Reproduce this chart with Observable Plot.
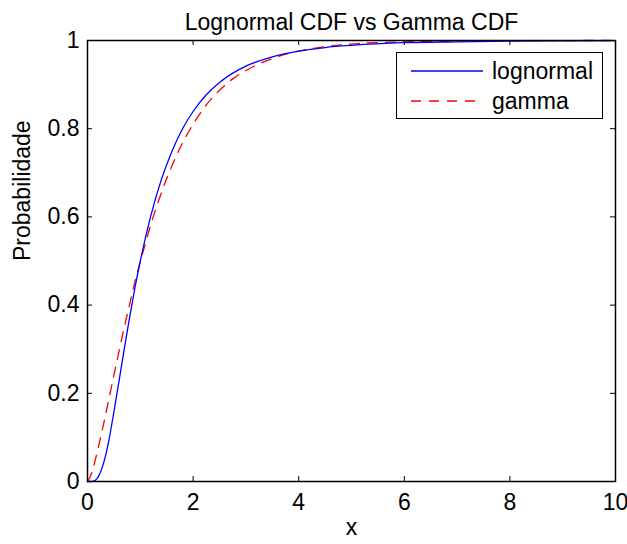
<!DOCTYPE html>
<html>
<head>
<meta charset="utf-8">
<script src="https://cdn.jsdelivr.net/npm/d3@7"></script>
<script src="https://cdn.jsdelivr.net/npm/@observablehq/plot@0.6"></script>
<style>
  html, body { margin: 0; padding: 0; background: #fff; }
  #wrap { position: relative; width: 627px; height: 544px; font-family: "Liberation Sans", Arial, sans-serif; }
  #legend { position: absolute; left: 396px; top: 52px; width: 207px; height: 67px; border: 1px solid #000; background: #fff; box-sizing: border-box; }
  #legend .row { position: absolute; left: 0; height: 26px; display: flex; align-items: center; font-size: 23px; color: #000; white-space: nowrap; }
  #legend svg { margin-left: 14px; margin-right: 9px; }
</style>
</head>
<body>
<div id="wrap">
  <div id="chart"></div>
  <div id="legend"></div>
</div>
<script>
const title = "Lognormal CDF vs Gamma CDF";
const xLabel = "x";
const yLabel = "Probabilidade";
const xTicks = [0, 2, 4, 6, 8, 10];
const yTicks = [0, 0.2, 0.4, 0.6, 0.8, 1];
const seriesNames = ["lognormal", "gamma"];

const xs = [0, 0.05, 0.1, 0.15, 0.2, 0.3, 0.4, 0.5, 0.6, 0.7, 0.8, 0.9, 1.0, 1.2, 1.4, 1.6, 1.8, 2.0, 2.25, 2.5, 2.75, 3.0, 3.5, 4.0, 4.5, 5.0, 6.0, 7.0, 8.0, 9.0, 10.0];
const lognormal = [0, 0.0, 0.0005, 0.003, 0.010, 0.040, 0.090, 0.158, 0.230, 0.303, 0.374, 0.440, 0.500, 0.603, 0.685, 0.749, 0.800, 0.839, 0.877, 0.905, 0.926, 0.942, 0.963, 0.976, 0.984, 0.989, 0.995, 0.997, 0.9985, 0.9992, 0.9995];
const gamma = [0, 0.010, 0.028, 0.050, 0.075, 0.128, 0.184, 0.241, 0.297, 0.351, 0.403, 0.454, 0.498, 0.583, 0.655, 0.716, 0.768, 0.810, 0.854, 0.887, 0.913, 0.932, 0.959, 0.976, 0.986, 0.992, 0.997, 0.999, 0.9997, 0.9999, 1.0];

const colors = ["#0000ff", "#ff0000"];
const dash = [null, "10,8"];

const data = [];
xs.forEach((x, i) => {
  data.push({x, y: lognormal[i], s: seriesNames[0]});
  data.push({x, y: gamma[i], s: seriesNames[1]});
});

const W = 627, H = 544;
const mL = 87, mR = 12, mT = 40, mB = 63;
const plotH = H - mT - mB;
const plotW = W - mL - mR;
const fmt = d => String(d);
const FS = 23;

const chart = Plot.plot({
  width: W,
  height: H,
  marginLeft: mL,
  marginRight: mR,
  marginTop: mT,
  marginBottom: mB,
  style: {fontFamily: "Liberation Sans, Arial, sans-serif", fontSize: FS + "px", color: "#000", background: "#fff"},
  x: {domain: [0, 10]},
  y: {domain: [0, 1]},
  marks: [
    Plot.axisX(xTicks, {anchor: "bottom", tickSize: 0, tickPadding: 12, tickFormat: fmt, label: null, fontSize: FS}),
    Plot.axisY(yTicks, {anchor: "left", tickSize: 0, tickPadding: 8, tickFormat: fmt, label: null, fontSize: FS}),
    Plot.tickX(xTicks, {x: d => d, insetTop: plotH - 5, stroke: "#000", strokeWidth: 1}),
    Plot.tickX(xTicks, {x: d => d, insetBottom: plotH - 5, stroke: "#000", strokeWidth: 1}),
    Plot.tickY(yTicks, {y: d => d, insetRight: plotW - 5, stroke: "#000", strokeWidth: 1}),
    Plot.tickY(yTicks, {y: d => d, insetLeft: plotW - 5, stroke: "#000", strokeWidth: 1}),
    Plot.line(data.filter(d => d.s === seriesNames[1]), {x: "x", y: "y", stroke: colors[1], strokeWidth: 1.3, strokeDasharray: dash[1], curve: "monotone-x"}),
    Plot.line(data.filter(d => d.s === seriesNames[0]), {x: "x", y: "y", stroke: colors[0], strokeWidth: 1.3, curve: "monotone-x"}),
    Plot.frame({stroke: "#000", strokeWidth: 1.5}),
    Plot.text([title], {frameAnchor: "top", dy: -27, fontSize: FS, fill: "#000"}),
    Plot.text([xLabel], {frameAnchor: "bottom", dy: 53, fontSize: FS, fill: "#000"}),
    Plot.text([yLabel], {frameAnchor: "left", rotate: -90, dx: -65, fontSize: FS, fill: "#000"})
  ]
});
document.getElementById("chart").appendChild(chart);

// legend
const legend = document.getElementById("legend");
seriesNames.forEach((name, i) => {
  const row = document.createElement("div");
  row.className = "row";
  row.style.top = (5 + i * 30) + "px";
  const sw = d3.create("svg").attr("width", 72).attr("height", 10);
  sw.append("line").attr("x1", 0).attr("x2", 72).attr("y1", 5).attr("y2", 5)
    .attr("stroke", colors[i]).attr("stroke-width", 1.3)
    .attr("stroke-dasharray", dash[i]);
  row.appendChild(sw.node());
  const t = document.createElement("span");
  t.textContent = name;
  row.appendChild(t);
  legend.appendChild(row);
});
</script>
</body>
</html>
